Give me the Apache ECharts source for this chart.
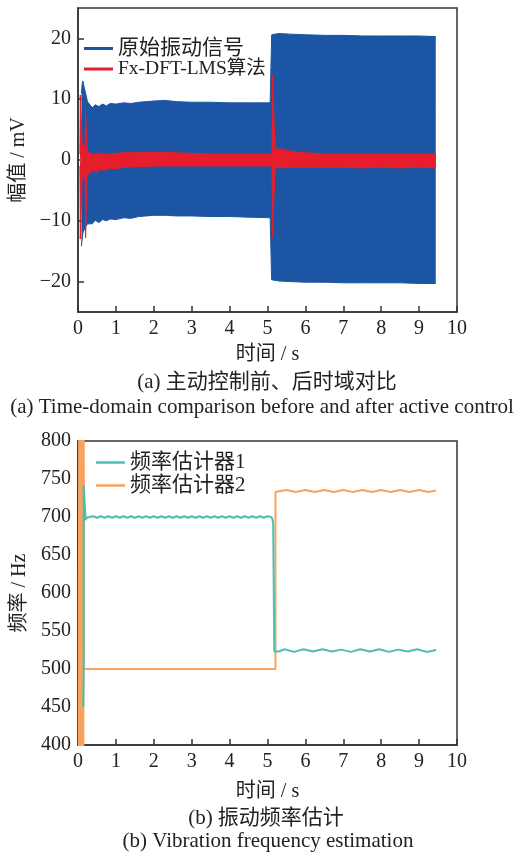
<!DOCTYPE html>
<html>
<head>
<meta charset="utf-8">
<script src="https://cdn.jsdelivr.net/npm/echarts@6/dist/echarts.min.js"></script>
<style>
html,body{margin:0;padding:0;background:#fff;}
#c{width:525px;height:853px;}
</style>
</head>
<body>
<div id="c"></div>
<script>
// ---------- (a) time-domain envelopes ----------
var blueT  = [0.09,0.11,0.13,0.16,0.20,0.25,0.30,0.38,0.45,0.55,0.65,0.75,0.85,1.0,1.2,1.4,1.6,1.8,2.0,2.3,2.6,3.0,3.5,4.0,4.5,5.07,5.11,5.3,5.6,6.0,6.5,7.0,7.5,8.0,8.5,9.0,9.44];
var blueUp = [11,12.5,13,12,11,9.6,9.2,8.6,9.1,8.8,9.2,8.9,9.3,9.2,9.4,9.3,9.5,9.6,9.7,9.8,9.6,9.5,9.5,9.4,9.4,9.4,20.6,20.8,20.7,20.6,20.5,20.5,20.4,20.4,20.4,20.4,20.3];
var blueLo = [-14.2,-13,-12,-11.5,-11,-10.5,-10.2,-10.5,-9.9,-10.3,-9.8,-10,-9.7,-9.8,-9.5,-9.6,-9.3,-9.2,-9.1,-9.1,-9.2,-9.2,-9.3,-9.3,-9.4,-9.5,-19.7,-19.9,-20.0,-20.1,-20.1,-20.2,-20.2,-20.2,-20.2,-20.3,-20.3];

var redT  = [0.05,0.06,0.09,0.11,0.19,0.20,0.22,0.24,0.30,0.40,0.50,0.60,0.70,0.80,1.0,1.2,1.5,2.0,2.5,3.0,3.5,4.0,4.5,5.0,5.12,5.13,5.18,5.20,5.25,5.4,5.6,5.8,6.0,6.5,7.0,7.5,8.0,8.5,9.0,9.44];
var redUp = [1.0,10.7,10.7,2.5,2.2,8.2,8.2,1.6,1.2,0.9,1.2,0.9,1.1,0.9,1.1,1.2,1.2,1.3,1.2,1.1,1.0,1.0,1.0,1.0,1.0,14.0,14.0,1.8,2.0,1.8,1.5,1.3,1.2,1.0,1.0,1.0,1.0,1.0,1.0,1.0];
var redLo = [-1.0,-13.0,-13.0,-3.0,-2.8,-12.8,-12.8,-2.4,-2.2,-1.7,-2.0,-1.5,-1.8,-1.4,-1.4,-1.2,-1.1,-1.0,-1.0,-1.0,-1.0,-1.0,-1.0,-1.0,-1.0,-12.8,-12.8,-1.2,-1.2,-1.3,-1.2,-1.2,-1.2,-1.2,-1.2,-1.3,-1.2,-1.3,-1.2,-1.3];

// ---------- (b) frequency estimators [time s, Hz] ----------
var est1 = [[0.14,450],[0.15,500],[0.15,742],[0.20,742],[0.20,696],[0.23,699],
  [0.3,700],[0.4,701],[0.5,699],[0.6,701],[0.7,699],[0.8,701],[0.9,699],[1.0,701],[1.1,699],[1.2,701],
  [1.3,699],[1.4,701],[1.5,699],[1.6,701],[1.7,699],[1.8,701],[1.9,699],[2.0,701],[2.1,699],[2.2,701],
  [2.3,699],[2.4,701],[2.5,699],[2.6,701],[2.7,699],[2.8,701],[2.9,699],[3.0,701],[3.1,699],[3.2,701],
  [3.3,699],[3.4,701],[3.5,699],[3.6,701],[3.7,699],[3.8,701],[3.9,699],[4.0,701],[4.1,699],[4.2,701],
  [4.3,699],[4.4,701],[4.5,699],[4.6,701],[4.7,699],[4.8,701],[4.9,699],[5.0,701],[5.1,700],
  [5.13,697],[5.15,692],[5.17,692],[5.18,523],
  [5.3,523],[5.45,526],[5.7,522.5],[5.95,526],[6.2,523],[6.45,526],[6.7,523],[6.95,525.5],[7.2,522.5],
  [7.45,526],[7.7,523],[7.95,526],[8.2,522.5],[8.45,525.5],[8.7,523],[8.95,526],[9.2,522.5],[9.45,525]];
var est2 = [[0.02,300],[0.03,900],[0.04,300],[0.05,900],[0.06,300],[0.07,900],[0.08,300],[0.09,900],
  [0.10,300],[0.11,900],[0.12,300],[0.13,900],[0.14,300],[0.15,900],[0.16,500],
  [1.0,500],[2.0,500],[3.0,500],[4.0,500],[5.0,500],[5.21,500],[5.21,733],
  [5.3,734],[5.5,735.5],[5.75,733],[6.0,735.5],[6.25,733],[6.5,735.5],[6.75,733],[7.0,735.5],[7.25,733],
  [7.5,735.5],[7.75,733],[8.0,735.5],[8.25,733],[8.5,735.5],[8.75,733],[9.0,735.5],[9.25,733],[9.45,735]];

// ---------- ticks ----------
var ampTicks = [-20,-10,0,10,20];

var BLUE = '#1c55a4', RED = '#e61e2b', TEAL = '#4cbfb1', ORANGE = '#f7a25e';
var FONT = "'Liberation Serif','Times New Roman','Noto Sans CJK SC',serif";
var AX = '#333';

function fmt(v){ return v < 0 ? '\u2212' + (-v) : String(v); }

function xAxisCfg(gi, gap){
  return {
    gridIndex: gi, type: 'value', min: 0, max: 10, interval: 1,
    axisLine: {onZero: false, lineStyle: {color: AX, width: 1.5}},
    axisTick: {inside: true, length: 6, lineStyle: {color: AX, width: 1.5}},
    axisLabel: {fontSize: 20, fontFamily: FONT, color: '#222', margin: 7},
    splitLine: {show: false},
    name: '时间 / s', nameLocation: 'middle', nameGap: gap,
    nameTextStyle: {fontSize: 20, fontFamily: FONT, color: '#222'}
  };
}

function band(t, vals, color, legendName){
  return {type: 'line', name: legendName, xAxisIndex: 0, yAxisIndex: 0,
    symbol: 'none', silent: true,
    lineStyle: {width: 1, color: color}, itemStyle: {color: color},
    areaStyle: {color: color, opacity: 1, origin: 0},
    data: t.map(function(x, i){ return [x, vals[i]]; })};
}

var option = {
  animation: false,
  backgroundColor: '#fff',
  grid: [
    {left: 78, top: 8, right: 68, bottom: 541, show: true, borderColor: AX, borderWidth: 1.5},
    {left: 78, top: 441, right: 68, bottom: 108, show: true, borderColor: AX, borderWidth: 1.5}
  ],
  xAxis: [xAxisCfg(0, 33), xAxisCfg(1, 37)],
  yAxis: [
    {
      gridIndex: 0, type: 'value', min: -25, max: 25,
      axisLine: {onZero: false, lineStyle: {color: AX, width: 1.5}},
      axisTick: {inside: true, length: 6, lineStyle: {color: AX, width: 1.5}, customValues: ampTicks},
      axisLabel: {fontSize: 20, fontFamily: FONT, color: '#222', margin: 7, customValues: ampTicks, formatter: fmt},
      splitLine: {show: false},
      name: '幅值 / mV', nameLocation: 'middle', nameGap: 48,
      nameTextStyle: {fontSize: 20, fontFamily: FONT, color: '#222'}
    },
    {
      gridIndex: 1, type: 'value', min: 400, max: 800, interval: 50,
      axisLine: {onZero: false, lineStyle: {color: AX, width: 1.5}},
      axisTick: {inside: true, length: 6, lineStyle: {color: AX, width: 1.5}},
      axisLabel: {fontSize: 20, fontFamily: FONT, color: '#222', margin: 7},
      splitLine: {show: false},
      name: '频率 / Hz', nameLocation: 'middle', nameGap: 48,
      nameTextStyle: {fontSize: 20, fontFamily: FONT, color: '#222'}
    }
  ],
  legend: [
    {
      left: 80, top: 38, orient: 'vertical', itemGap: 0, itemWidth: 29, itemHeight: 3,
      padding: [0, 0, 0, 4],
      textStyle: {fontSize: 21, fontFamily: FONT, color: '#222', lineHeight: 20},
      data: [
        {name: '原始振动信号', icon: 'rect', itemStyle: {color: BLUE}},
        {name: 'Fx-DFT-LMS算法', icon: 'rect', itemStyle: {color: RED}, textStyle: {fontSize: 19.5}}
      ]
    },
    {
      left: 96, top: 452, orient: 'vertical', itemGap: 2, itemWidth: 29, itemHeight: 2.5,
      padding: 0,
      textStyle: {fontSize: 21, fontFamily: FONT, color: '#222', lineHeight: 21},
      data: [
        {name: '频率估计器1', icon: 'rect', itemStyle: {color: TEAL}},
        {name: '频率估计器2', icon: 'rect', itemStyle: {color: ORANGE}}
      ]
    }
  ],
  graphic: [
    {type: 'text', x: 267, y: 382, style: {text: '(a) 主动控制前、后时域对比', fontSize: 21, fontFamily: FONT, fill: '#222', textAlign: 'center', textVerticalAlign: 'middle'}},
    {type: 'text', x: 262, y: 407, style: {text: '(a) Time-domain comparison before and after active control', fontSize: 21, fontFamily: FONT, fill: '#222', textAlign: 'center', textVerticalAlign: 'middle'}},
    {type: 'text', x: 266, y: 818, style: {text: '(b) 振动频率估计', fontSize: 21, fontFamily: FONT, fill: '#222', textAlign: 'center', textVerticalAlign: 'middle'}},
    {type: 'text', x: 268, y: 841, style: {text: '(b) Vibration frequency estimation', fontSize: 21, fontFamily: FONT, fill: '#222', textAlign: 'center', textVerticalAlign: 'middle'}}
  ],
  series: [
    band(blueT, blueUp, BLUE, '原始振动信号'),
    band(blueT, blueLo, BLUE, '原始振动信号'),
    band(redT, redUp, RED, 'Fx-DFT-LMS算法'),
    band(redT, redLo, RED, 'Fx-DFT-LMS算法'),
    {type: 'line', name: '频率估计器2', xAxisIndex: 1, yAxisIndex: 1, symbol: 'none',
     lineStyle: {width: 2, color: ORANGE}, itemStyle: {color: ORANGE}, data: est2},
    {type: 'line', name: '频率估计器1', xAxisIndex: 1, yAxisIndex: 1, symbol: 'none',
     lineStyle: {width: 2, color: TEAL}, itemStyle: {color: TEAL}, data: est1}
  ]
};

var chart = echarts.init(document.getElementById('c'), null, {renderer: 'canvas'});
chart.setOption(option);
</script>
</body>
</html>
